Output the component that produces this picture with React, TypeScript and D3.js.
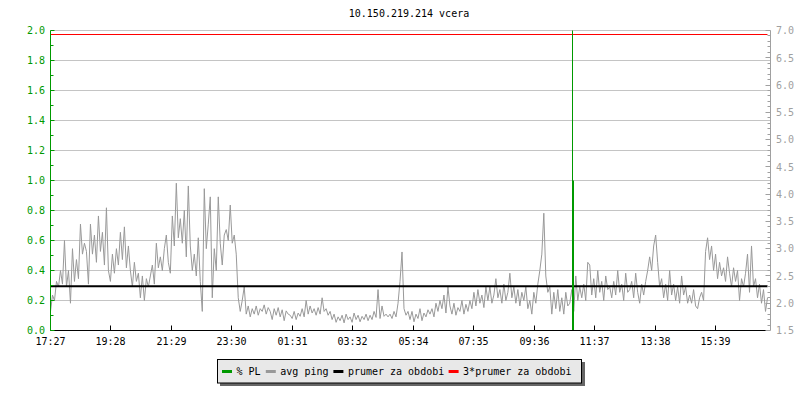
import React from "react";
import * as d3 from "d3";

const title = "10.150.219.214 vcera";
const tickLabels = ["17:27","19:28","21:29","23:30","01:31","03:32","05:34","07:35","09:36","11:37","13:38","15:39"];
const tickMinutes = [0,121,242,363,484,605,727,848,969,1090,1211,1332];
const sampleStepMinutes = 4;
// avg ping (ms), right axis
const pingValues = [
  1.85,2.15,2.05,2.4,2.3,2.6,2.35,3.15,2.3,2.6,
  2.0,3.0,2.4,2.8,2.45,3.45,2.9,3.1,2.95,2.35,
  3.45,2.9,3.25,2.75,3.6,2.95,3.3,2.7,3.75,2.6,
  2.4,2.9,2.55,3.0,2.7,3.3,2.8,3.4,2.65,3.05,
  2.6,2.3,2.75,2.4,2.55,2.1,2.5,2.05,2.45,2.3,
  2.5,2.7,2.35,3.1,2.65,2.85,2.6,3.0,3.25,2.75,
  2.55,3.6,3.05,4.2,3.2,3.55,3.1,3.7,2.85,4.15,
  3.05,2.6,2.9,2.5,3.2,2.4,1.85,4.1,3.0,3.45,
  3.95,2.1,3.0,2.6,3.95,3.1,2.7,3.25,3.35,3.15,
  3.8,3.1,3.25,2.9,2.1,1.85,2.05,2.3,1.8,1.95,
  1.75,1.9,1.8,1.95,1.78,1.9,1.85,1.97,1.8,1.92,
  1.85,1.7,1.9,1.78,1.92,1.75,1.88,1.68,1.86,1.8,
  1.78,1.72,1.85,1.7,1.82,1.76,1.9,1.75,2.05,1.8,
  1.95,1.82,1.9,1.78,1.92,1.8,2.1,1.85,1.9,1.78,
  1.85,1.7,1.8,1.65,1.75,1.68,1.78,1.64,1.8,1.7,
  1.75,1.65,1.82,1.7,1.78,1.66,1.76,1.7,1.8,1.68,
  1.78,1.7,1.85,1.74,2.25,1.72,1.95,1.76,1.8,1.75,
  1.8,1.72,1.85,1.75,2.0,2.4,2.94,1.9,1.78,1.85,
  1.7,1.85,1.66,1.8,1.72,1.9,1.68,1.82,1.75,1.88,
  1.8,1.9,1.75,2.0,1.85,2.05,1.9,2.15,1.82,2.3,
  1.95,1.8,2.0,1.78,1.92,1.85,2.05,1.8,1.98,1.85,
  2.05,1.9,2.2,1.95,2.25,2.0,2.15,1.92,2.3,2.05,
  2.3,2.0,2.15,2.45,2.1,2.25,2.0,2.35,2.05,2.2,
  2.55,2.1,2.3,2.0,2.25,1.95,2.2,2.05,2.3,1.9,
  2.05,1.8,2.2,2.0,2.35,2.6,2.9,3.65,2.5,2.2,
  2.3,1.8,2.2,1.9,2.25,1.85,2.1,1.8,2.2,1.95,
  2.0,2.25,1.85,2.5,2.05,2.3,2.1,2.35,2.05,2.75,
  2.7,2.15,2.45,2.1,2.6,2.2,2.4,2.05,2.5,2.25,
  2.3,2.1,2.4,2.15,2.6,2.2,2.35,2.05,2.55,2.2,
  2.25,2.4,2.1,2.55,2.2,2.0,2.35,2.15,2.4,2.6,
  2.85,2.6,3.05,3.25,2.75,2.3,2.45,2.1,2.35,2.05,
  2.6,2.15,2.35,2.05,2.3,2.0,2.5,2.15,2.3,2.0,
  2.15,2.0,2.25,1.95,1.9,2.1,2.2,2.05,2.95,3.2,
  2.8,3.05,2.6,2.9,2.45,2.75,2.5,2.65,2.4,2.85,
  2.55,2.3,2.65,2.4,2.6,2.05,2.45,2.3,2.55,2.9,
  2.2,3.05,2.3,2.45,2.1,2.35,2.0,2.25,1.85,2.1
];
// packet loss (%), left axis — only the non-zero samples
const plMinutes = [1045, 1047];
const plValues = [2.3, 1.0];
const meanPing = 2.31;
const legendLabels = ["% PL", "avg ping", "prumer za obdobi", "3*prumer za obdobi"];
const legendColors = ["#009900", "#999999", "#000000", "#ff0000"];

const FONT = "'DejaVu Sans Mono', monospace";

export default function App() {
  const W = 800, H = 400;
  const left = 50.5, right = 769.5, top = 30.5, bottom = 330.5;
  const x = d3.scaleLinear().domain([0, 1440]).range([left, right]);
  const yL = d3.scaleLinear().domain([0, 2]).range([bottom, top]);
  const yR = d3.scaleLinear().domain([1.5, 7]).range([bottom, top]);

  const pingTimes = pingValues.map((_, i) => i * sampleStepMinutes);
  const lastT = pingTimes[pingTimes.length - 1];
  const pingLine = d3.line<number>()
    .x((_, i) => x(pingTimes[i]))
    .y((d) => yR(d));

  const leftMajor = d3.range(0, 11).map((i) => i * 0.2);
  const leftMinor = d3.range(0, 21).map((i) => i * 0.1);
  const rightMajor = d3.range(0, 12).map((i) => 1.5 + i * 0.5);
  const rightMinor = d3.range(0, 56).map((i) => 1.5 + i * 0.1);

  // legend layout
  const cw = 5.95;
  let lx = 222;
  const items = legendLabels.map((lab, i) => {
    const it = { sx: lx, tx: lx + 14.5, lab, color: legendColors[i] };
    lx = it.tx + lab.length * cw + 5.5;
    return it;
  });

  const snap = (v: number) => Math.round(v - 0.5) + 0.5;

  return (
    <svg width={W} height={H} style={{ position: "absolute", left: 0, top: 0, background: "#fff" }} fontFamily={FONT}>
      <defs>
        <clipPath id="plot">
          <rect x={left} y={top} width={right - left} height={bottom - top + 1} />
        </clipPath>
      </defs>
      <rect width={W} height={H} fill="#fff" />
      <text x={409} y={16.5} textAnchor="middle" fontSize={10} fill="#000">{title}</text>
      {/* grid */}
      {leftMajor.slice(1).map((v) => (
        <line key={"g" + v} x1={left} x2={right + 1} y1={snap(yL(v))} y2={snap(yL(v))} stroke="#c4c4c4" strokeWidth={1} />
      ))}
      <g clipPath="url(#plot)">
        <path d={pingLine(pingValues) || ""} fill="none" stroke="#999999" strokeWidth={1} />
        <line x1={x(0)} x2={x(lastT)} y1={yR(meanPing)} y2={yR(meanPing)} stroke="#000" strokeWidth={2} />
        <line x1={x(0)} x2={x(lastT)} y1={snap(yR(3 * meanPing))} y2={snap(yR(3 * meanPing))} stroke="#ff0000" strokeWidth={1} />
        {plMinutes.map((m, i) => (
          <line key={"pl" + i} x1={snap(x(m))} x2={snap(x(m))} y1={yL(0)} y2={yL(plValues[i])} stroke="#009900" strokeWidth={1} />
        ))}
      </g>
      {/* x axis */}
      <line x1={left} x2={x(lastT)} y1={bottom} y2={bottom} stroke="#000" strokeWidth={1} />
      {tickMinutes.map((m, i) => {
        const px = snap(x(m));
        return (
          <g key={"xt" + i}>
            <line x1={px} x2={px} y1={bottom} y2={bottom - 5} stroke="#000" />
            <text x={px} y={345} textAnchor="middle" fontSize={10} fill="#000">{tickLabels[i]}</text>
          </g>
        );
      })}
      {/* left axis */}
      <line x1={left} x2={left} y1={top} y2={bottom} stroke="#009900" />
      {leftMinor.map((v, i) => {
        const py = snap(yL(v));
        return <line key={"lm" + i} x1={left} x2={left + (i % 2 === 0 ? 4 : 3)} y1={py} y2={py} stroke="#009900" />;
      })}
      {leftMajor.map((v, i) => (
        <text key={"ll" + i} x={45} y={yL(v) + 3.8} textAnchor="end" fontSize={10} fill="#009900">{v.toFixed(1)}</text>
      ))}
      {/* right axis */}
      <line x1={right + 1} x2={right + 1} y1={top} y2={bottom} stroke="#a0a0a0" />
      {rightMinor.map((v, i) => {
        const py = snap(yR(v));
        return <line key={"rm" + i} x1={right + 1} x2={right + 1 - (i % 5 === 0 ? 5 : 3)} y1={py} y2={py} stroke="#a0a0a0" />;
      })}
      {rightMajor.map((v, i) => (
        <text key={"rl" + i} x={776} y={yR(v) + 3.8} textAnchor="start" fontSize={10} fill="#a0a0a0">{v.toFixed(1)}</text>
      ))}
      {/* legend */}
      <rect x={220} y={362} width={365} height={24} fill="#666" />
      <rect x={217.5} y={359.5} width={364} height={23.5} fill="#e8e8e8" stroke="#000" strokeWidth={1} />
      {items.map((it, i) => (
        <g key={"lg" + i}>
          <rect x={it.sx} y={370} width={10} height={3} fill={it.color} />
          <text x={it.tx} y={374.5} fontSize={10} fill="#000">{it.lab}</text>
        </g>
      ))}
    </svg>
  );
}
